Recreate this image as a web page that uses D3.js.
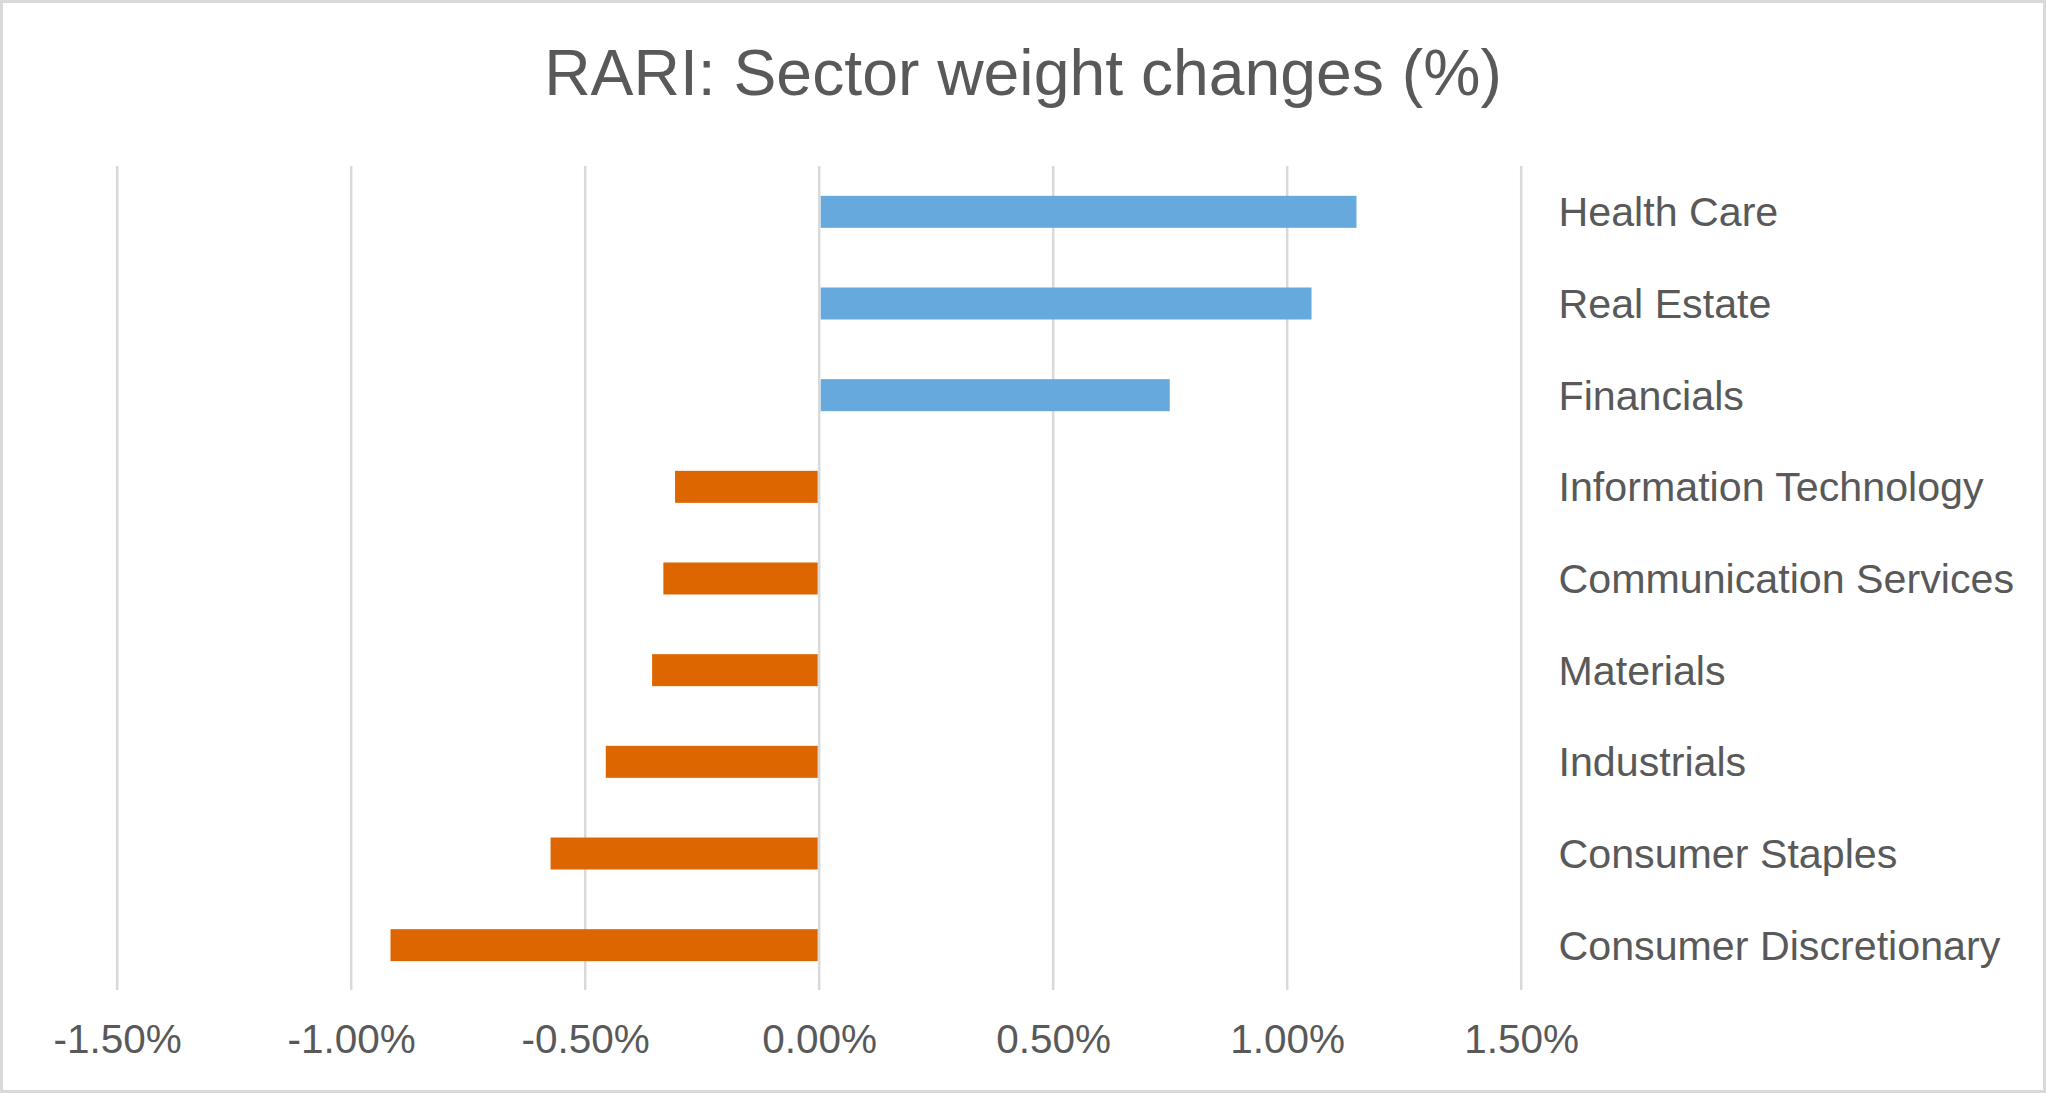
<!DOCTYPE html>
<html>
<head>
<meta charset="utf-8">
<script src="https://cdn.jsdelivr.net/npm/d3@7"></script>
<style>
  html, body { margin: 0; padding: 0; background: #fff; }
  svg { display: block; font-family: "Liberation Sans", Arial, sans-serif; }
</style>
</head>
<body>
<svg class="canvas" width="2046" height="1093"></svg>
<script>
// sector names, top to bottom
const sectors = [
    'Health Care',
    'Real Estate',
    'Financials',
    'Information Technology',
    'Communication Services',
    'Materials',
    'Industrials',
    'Consumer Staples',
    'Consumer Discretionary'
];
// weight change, in fractions (0.01 = 1%)
const changes = [0.01148, 0.01052, 0.00749, -0.00308, -0.00333, -0.00357, -0.00456, -0.00574, -0.00916];
const xTicks = [-0.015, -0.01, -0.005, 0, 0.005, 0.01, 0.015];
const title = 'RARI: Sector weight changes (%)';

const data = sectors.map((s, i) => ({ sector: s, value: changes[i] }));

const svg = d3.select('.canvas');
const width = 2046;
const height = 1093;
const textColor = '#595959';
const gridColor = '#d9d9d9';

// chart border
svg
    .append('rect')
    .attr('x', 1.5)
    .attr('y', 1.5)
    .attr('width', width - 3)
    .attr('height', height - 3)
    .attr('fill', '#fff')
    .attr('stroke', gridColor)
    .attr('stroke-width', 3);

// scales
const xScale = d3.scaleLinear().domain([-0.015, 0.015]).range([117.2, 1521.2]);
const yScale = d3
    .scaleBand()
    .domain(sectors)
    .range([166, 991])
    .paddingInner(0.651)
    .paddingOuter(0.3255);

// title
svg
    .append('text')
    .attr('x', width / 2)
    .attr('y', 95)
    .attr('text-anchor', 'middle')
    .attr('font-size', 64.3)
    .attr('fill', textColor)
    .text(title);

// vertical gridlines
svg
    .append('g')
    .selectAll('line')
    .data(xTicks)
    .enter()
    .append('line')
    .attr('x1', (d) => xScale(d))
    .attr('x2', (d) => xScale(d))
    .attr('y1', 166)
    .attr('y2', 990)
    .attr('stroke', gridColor)
    .attr('stroke-width', 2.5);

// bars
svg
    .append('g')
    .selectAll('rect')
    .data(data)
    .enter()
    .append('rect')
    .attr('x', (d) => xScale(Math.min(0, d.value)) + (d.value > 0 ? 1.5 : 0))
    .attr('y', (d) => yScale(d.sector))
    .attr('width', (d) => Math.abs(xScale(d.value) - xScale(0)) - 1.5)
    .attr('height', yScale.bandwidth())
    .attr('fill', (d) => (d.value >= 0 ? '#66a9dc' : '#dd6600'));

// x axis labels (plain hyphen for negatives, like the source)
const pct = d3.format('.2%');
const xAxis = d3
    .axisBottom(xScale)
    .tickValues(xTicks)
    .tickSize(0)
    .tickPadding(0)
    .tickFormat((d) => pct(d).replace('\u2212', '-'));
const xg = svg.append('g').attr('transform', 'translate(0, 1053)').call(xAxis);
xg.select('.domain').remove();
xg.selectAll('text')
    .attr('y', 0)
    .attr('dy', 0)
    .attr('font-size', 40.5)
    .attr('font-family', '"Liberation Sans", Arial, sans-serif')
    .attr('fill', textColor);

// category labels on the right
const yAxis = d3.axisRight(yScale).tickSize(0).tickPadding(0);
const yg = svg.append('g').attr('transform', 'translate(1558.5, 0)').call(yAxis);
yg.select('.domain').remove();
yg.selectAll('text')
    .attr('dy', '0.35em')
    .attr('font-size', 41.2)
    .attr('font-family', '"Liberation Sans", Arial, sans-serif')
    .attr('fill', textColor);
</script>
</body>
</html>
